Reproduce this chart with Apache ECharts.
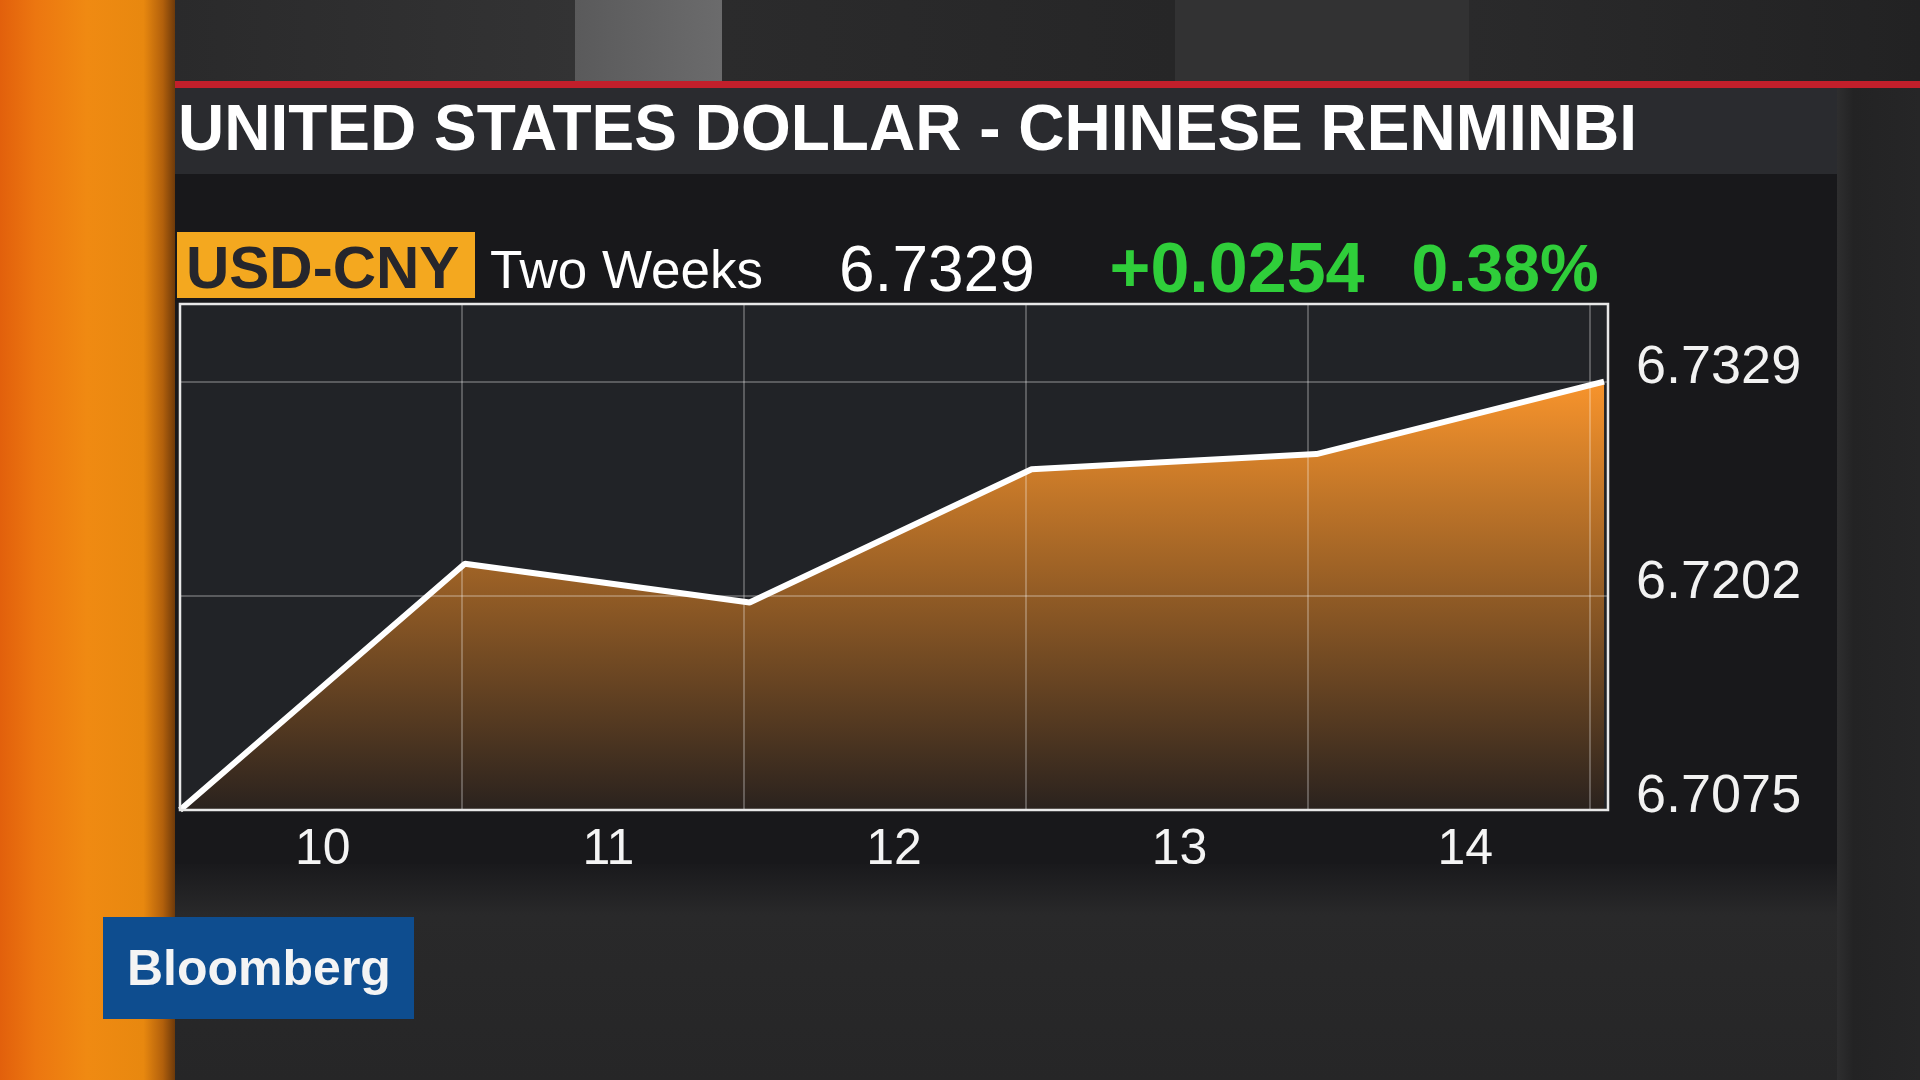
<!DOCTYPE html>
<html><head><meta charset="utf-8">
<script src="https://cdn.jsdelivr.net/npm/echarts@6/dist/echarts.min.js"></script>
<style>html,body{margin:0;padding:0;background:#1a1a1c;overflow:hidden}#c{width:1920px;height:1080px;}</style>
</head><body><div id="c"></div>
<script>
// ---- data ----
const dayLabels = ['10', '11', '12', '13', '14'];
const xPos = [0, 1.01, 2.02, 3.02, 4.03, 5.05];
const rates = [6.7075, 6.7221, 6.7198, 6.7277, 6.7286, 6.7329];
const yTickLabels = ['6.7075', '6.7202', '6.7329'];
const titleText = 'UNITED STATES DOLLAR - CHINESE RENMINBI';
const tickerText = 'USD-CNY';
const periodText = 'Two Weeks';
const lastText = '6.7329';
const changeText = '+0.0254';
const pctText = '0.38%';
const brandText = 'Bloomberg';

const FF = '"Liberation Sans", Arial, Helvetica, sans-serif';
const chart = echarts.init(document.getElementById('c'), null, {renderer: 'canvas'});
const LG = echarts.graphic.LinearGradient;

const rect = (x, y, w, h, fill, z) => ({type: 'rect', shape: {x, y, width: w, height: h}, style: {fill}, z: z == null ? -10 : z, silent: true});
const text = (x, y, t, font, fill, align) => ({type: 'text', x, y, style: {text: t, font, fill, textAlign: align || 'left', textVerticalAlign: 'middle'}, z: 20, silent: true});

const graphics = [
  rect(0, 0, 1920, 1080, '#252527'),
  // top stripes
  rect(175, 0, 400, 82, new LG(0, 0, 1, 0, [{offset: 0, color: '#2a2a2b'}, {offset: 1, color: '#333334'}])),
  rect(575, 0, 147, 82, new LG(0, 0, 1, 0, [{offset: 0, color: '#5a5a5b'}, {offset: 1, color: '#6b6b6c'}])),
  rect(722, 0, 453, 82, new LG(0, 0, 1, 0, [{offset: 0, color: '#2b2b2c'}, {offset: 1, color: '#262627'}])),
  rect(1175, 0, 294, 82, '#323233'),
  rect(1469, 0, 451, 82, new LG(0, 0, 1, 0, [{offset: 0, color: '#2a2a2b'}, {offset: 1, color: '#222223'}])),
  // right side
  rect(1837, 82, 83, 998, new LG(0, 0, 1, 0, [{offset: 0, color: '#2e2e2f'}, {offset: 0.2, color: '#232324'}, {offset: 1, color: '#262627'}])),
  // bottom area
  rect(175, 860, 1662, 220, new LG(0, 0, 0, 1, [{offset: 0, color: '#18181b'}, {offset: 0.25, color: '#29292a'}, {offset: 1, color: '#262627'}])),
  // panel
  rect(175, 174, 1662, 690, '#18181b'),
  // title bar
  rect(159, 86, 1678, 88, '#2a2b2f'),
  rect(159, 81, 1761, 7, '#c21f2b'),
  // orange bar
  rect(0, 0, 175, 1080, new LG(0, 0, 1, 0, [
    {offset: 0, color: '#e2600c'}, {offset: 0.2, color: '#ec7610'}, {offset: 0.5, color: '#f08a12'},
    {offset: 0.82, color: '#e8880f'}, {offset: 0.93, color: '#b2600c'}, {offset: 1, color: '#6e3a0a'}])),
  // plot background
  rect(180, 304, 1428, 506, '#212327'),
  // header box
  rect(177, 232, 298, 66, '#f4a81f', 5),
  // border of plot
  {type: 'rect', shape: {x: 180, y: 304, width: 1428, height: 506}, style: {fill: 'none', stroke: '#e8e8e8', lineWidth: 2.5}, z: 30, silent: true},
  // bloomberg logo
  rect(103, 917, 311, 102, '#0e4d8f', 5),
  text(178, 132, titleText, 'bold 64px ' + FF, '#ffffff'),
  text(186, 271, tickerText, 'bold 60px ' + FF, '#26262c'),
  text(490, 273, periodText, '53px ' + FF, '#ffffff'),
  text(839, 273, lastText, '64px ' + FF, '#ffffff'),
  text(1237, 273, changeText, 'bold 70px ' + FF, '#2fce3a', 'center'),
  text(1505, 273, pctText, 'bold 66px ' + FF, '#2fce3a', 'center'),
  text(127, 971, brandText, 'bold 50px ' + FF, '#f4f4f4')
];

chart.setOption({
  backgroundColor: 'transparent',
  animation: false,
  graphic: {elements: graphics},
  grid: {left: 180, right: 312, top: 304, bottom: 270, containLabel: false},
  xAxis: [
    {
      type: 'category', data: dayLabels, boundaryGap: true, position: 'bottom',
      axisLine: {show: false}, axisTick: {show: false}, splitLine: {show: false},
      axisLabel: {color: '#f4f4f4', fontSize: 50, fontFamily: FF, margin: 15}
    },
    {
      type: 'value', min: 0, max: 5.064, interval: 1, position: 'top', z: 3,
      axisLine: {show: false}, axisTick: {show: false}, axisLabel: {show: false},
      splitLine: {show: true, lineStyle: {color: 'rgba(255,255,255,0.26)', width: 2}}
    }
  ],
  yAxis: {
    type: 'value', position: 'right', min: 6.7075, max: 6.7375, interval: 0.0127, z: 3,
    axisLine: {show: false}, axisTick: {show: false},
    splitLine: {show: true, lineStyle: {color: 'rgba(255,255,255,0.26)', width: 2}},
    axisLabel: {
      color: '#f2f2f2', fontSize: 54, fontFamily: FF, margin: 28,
      verticalAlign: 'bottom', lineHeight: 26,
      formatter: v => { const s = v.toFixed(4); return yTickLabels.includes(s) ? s : ''; }
    }
  },
  series: [{
    type: 'line', xAxisIndex: 1, yAxisIndex: 0,
    data: xPos.map((x, i) => [x, rates[i]]),
    symbol: 'none', z: 2,
    lineStyle: {color: '#ffffff', width: 6},
    areaStyle: {opacity: 1, color: new LG(0, 0, 0, 1, [{offset: 0, color: '#f8942c'}, {offset: 1, color: '#2a221e'}])}
  }]
});
</script></body></html>
